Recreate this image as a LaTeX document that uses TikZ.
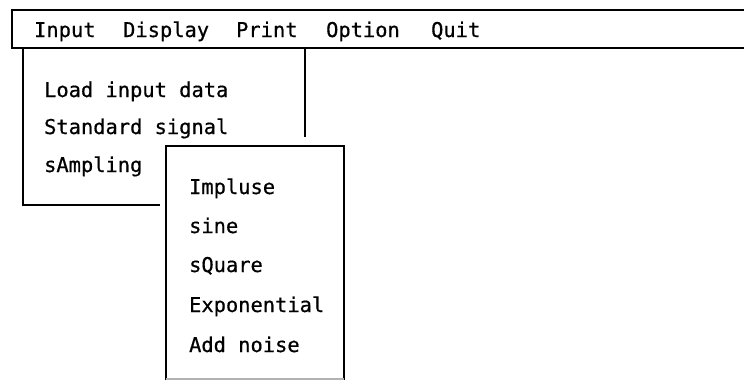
\documentclass[tikz,border=0pt]{standalone}
\usepackage{fontspec}
\newfontfamily\menufont[FakeBold=0.6]{DejaVu Sans Mono}

\tikzset{every picture/.style={line width=1.7pt}}
\tikzset{menuitem/.style={anchor=base west, inner sep=0pt, font=\fontsize{15.3}{18}\menufont}}

\begin{document}
\begin{tikzpicture}[x=0.75pt,y=0.75pt,yscale=-1,xscale=1]
	\useasboundingbox (0,0) rectangle (744,380);

	%Shape: Menu bar
	\draw    (744,10) -- (12,10) -- (12,48) -- (744,48) ;
	%Shape: Input menu
	\draw    (305,48) -- (305,137) ;
	\draw    (23,48) -- (23,205) -- (160,205) ;
	%Shape: Sampling submenu
	\draw    (166,380) -- (166,146) -- (344,146) -- (344,380) ;
	\draw [color=black!30, line width=1pt]  (166,379) -- (344,379) ;

	%Menu bar entries
	\node[menuitem] (input) at (33,37) {Input};
	\node[menuitem] (display) at (122,37) {Display};
	\node[menuitem] (print) at (235,37) {Print};
	\node[menuitem] (option) at (325,37) {Option};
	\node[menuitem] (quit) at (430,37) {Quit};

	%Input menu entries
	\node[menuitem] (load) at (43,97) {Load input data};
	\node[menuitem] (standard) at (43,134) {Standard signal};
	\node[menuitem] (sampling) at (43,172) {sAmpling};

	%Submenu entries
	\node[menuitem] (impulse) at (188,194) {Impluse};
	\node[menuitem] (sine) at (188,233) {sine};
	\node[menuitem] (square) at (188,272) {sQuare};
	\node[menuitem] (expo) at (188,312) {Exponential};
	\node[menuitem] (noise) at (188,352) {Add noise};

\end{tikzpicture}
\end{document}
